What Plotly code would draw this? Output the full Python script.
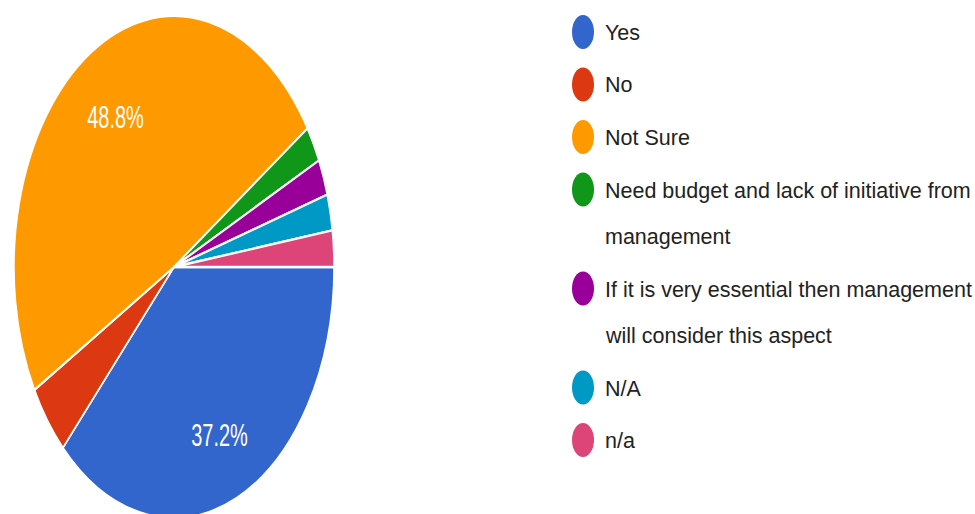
import textwrap
import plotly.graph_objects as go

# Survey responses
labels = [
    "Yes",
    "No",
    "Not Sure",
    "Need budget and lack of initiative from management",
    "If it is very essential then management will consider this aspect",
    "N/A",
    "n/a",
]
counts = [16, 2, 21, 1, 1, 1, 1]
colors = ["#3366cc", "#dc3912", "#ff9900", "#109618", "#990099", "#0099c6", "#dd4477"]
# only the two large slices carry a percentage label
show_pct = [True, False, True, False, False, False, False]

W, H = 975, 514
CX, CY, R = 174, 267, 160      # pie centre / radius in px
Y_STRETCH = 1.569              # vertical stretch applied to the pie layer
TEXT_PUSH = 1.4                # push slice labels further out from the centre

fig = go.Figure(
    go.Pie(
        labels=labels,
        values=counts,
        sort=False,
        direction="clockwise",
        rotation=90,
        marker=dict(colors=colors, line=dict(color="white", width=1.5)),
        texttemplate=["%{percent:.1%}" if s else "" for s in show_pct],
        textposition="inside",
        insidetextorientation="horizontal",
        textfont=dict(family="Arial", size=20, color="white"),
        hoverinfo="label+percent",
        showlegend=False,
        domain=dict(
            x=[(CX - R) / W, (CX + R) / W],
            y=[(H - CY - R) / H, (H - CY + R) / H],
        ),
    )
)

# Legend: coloured dots with wrapped labels
MARK_X, TEXT_X = 583, 603
y = 32
item_gap, line_gap = 52.5, 46.5
shapes, annotations = [], []
for lab, col in zip(labels, colors):
    shapes.append(dict(
        type="circle", xref="paper", yref="paper",
        xsizemode="pixel", ysizemode="pixel",
        xanchor=MARK_X / W, yanchor=1 - y / H,
        x0=-11, x1=11, y0=-17, y1=17,
        fillcolor=col, line=dict(width=0),
    ))
    lines = textwrap.wrap(lab, 39)
    for i, ln in enumerate(lines):
        ly = y + i * line_gap
        annotations.append(dict(
            text=ln, xref="paper", yref="paper",
            x=TEXT_X / W, y=1 - (ly + 1) / H,
            xanchor="left", yanchor="middle", showarrow=False,
            font=dict(family="Arial", size=21.5, color="#222222"),
        ))
    y += (len(lines) - 1) * line_gap + item_gap

fig.update_layout(
    width=W, height=H,
    margin=dict(l=0, r=0, t=0, b=0),
    paper_bgcolor="white", plot_bgcolor="white",
    shapes=shapes, annotations=annotations,
)

# Move slice labels outward, then stretch the pie vertically about its centre
stretch_js = """
var gd = document.getElementById('{plot_id}');
var layer = gd.querySelector('.pielayer');
var cd0 = gd.calcdata && gd.calcdata[0] && gd.calcdata[0][0];
var cx = (cd0 && cd0.cx) ? cd0.cx : %f;
var cy = (cd0 && cd0.cy) ? cd0.cy : %f;
var svgRect = gd.querySelector('.main-svg').getBoundingClientRect();
layer.querySelectorAll('text.slicetext').forEach(function (el) {
    var b = el.getBoundingClientRect();
    if (!b.width) { return; }
    var bx = b.left + b.width / 2 - svgRect.left;
    var by = b.top + b.height / 2 - svgRect.top;
    var dx = (%f - 1) * (bx - cx), dy = (%f - 1) * (by - cy);
    el.setAttribute('transform',
        'translate(' + dx + ',' + dy + ') ' + (el.getAttribute('transform') || ''));
});
layer.setAttribute('transform',
    'translate(0,' + cy + ') scale(1,%f) translate(0,' + (-cy) + ')');
""" % (CX, CY, TEXT_PUSH, TEXT_PUSH, Y_STRETCH)

fig.write_html("out.html", post_script=stretch_js)
